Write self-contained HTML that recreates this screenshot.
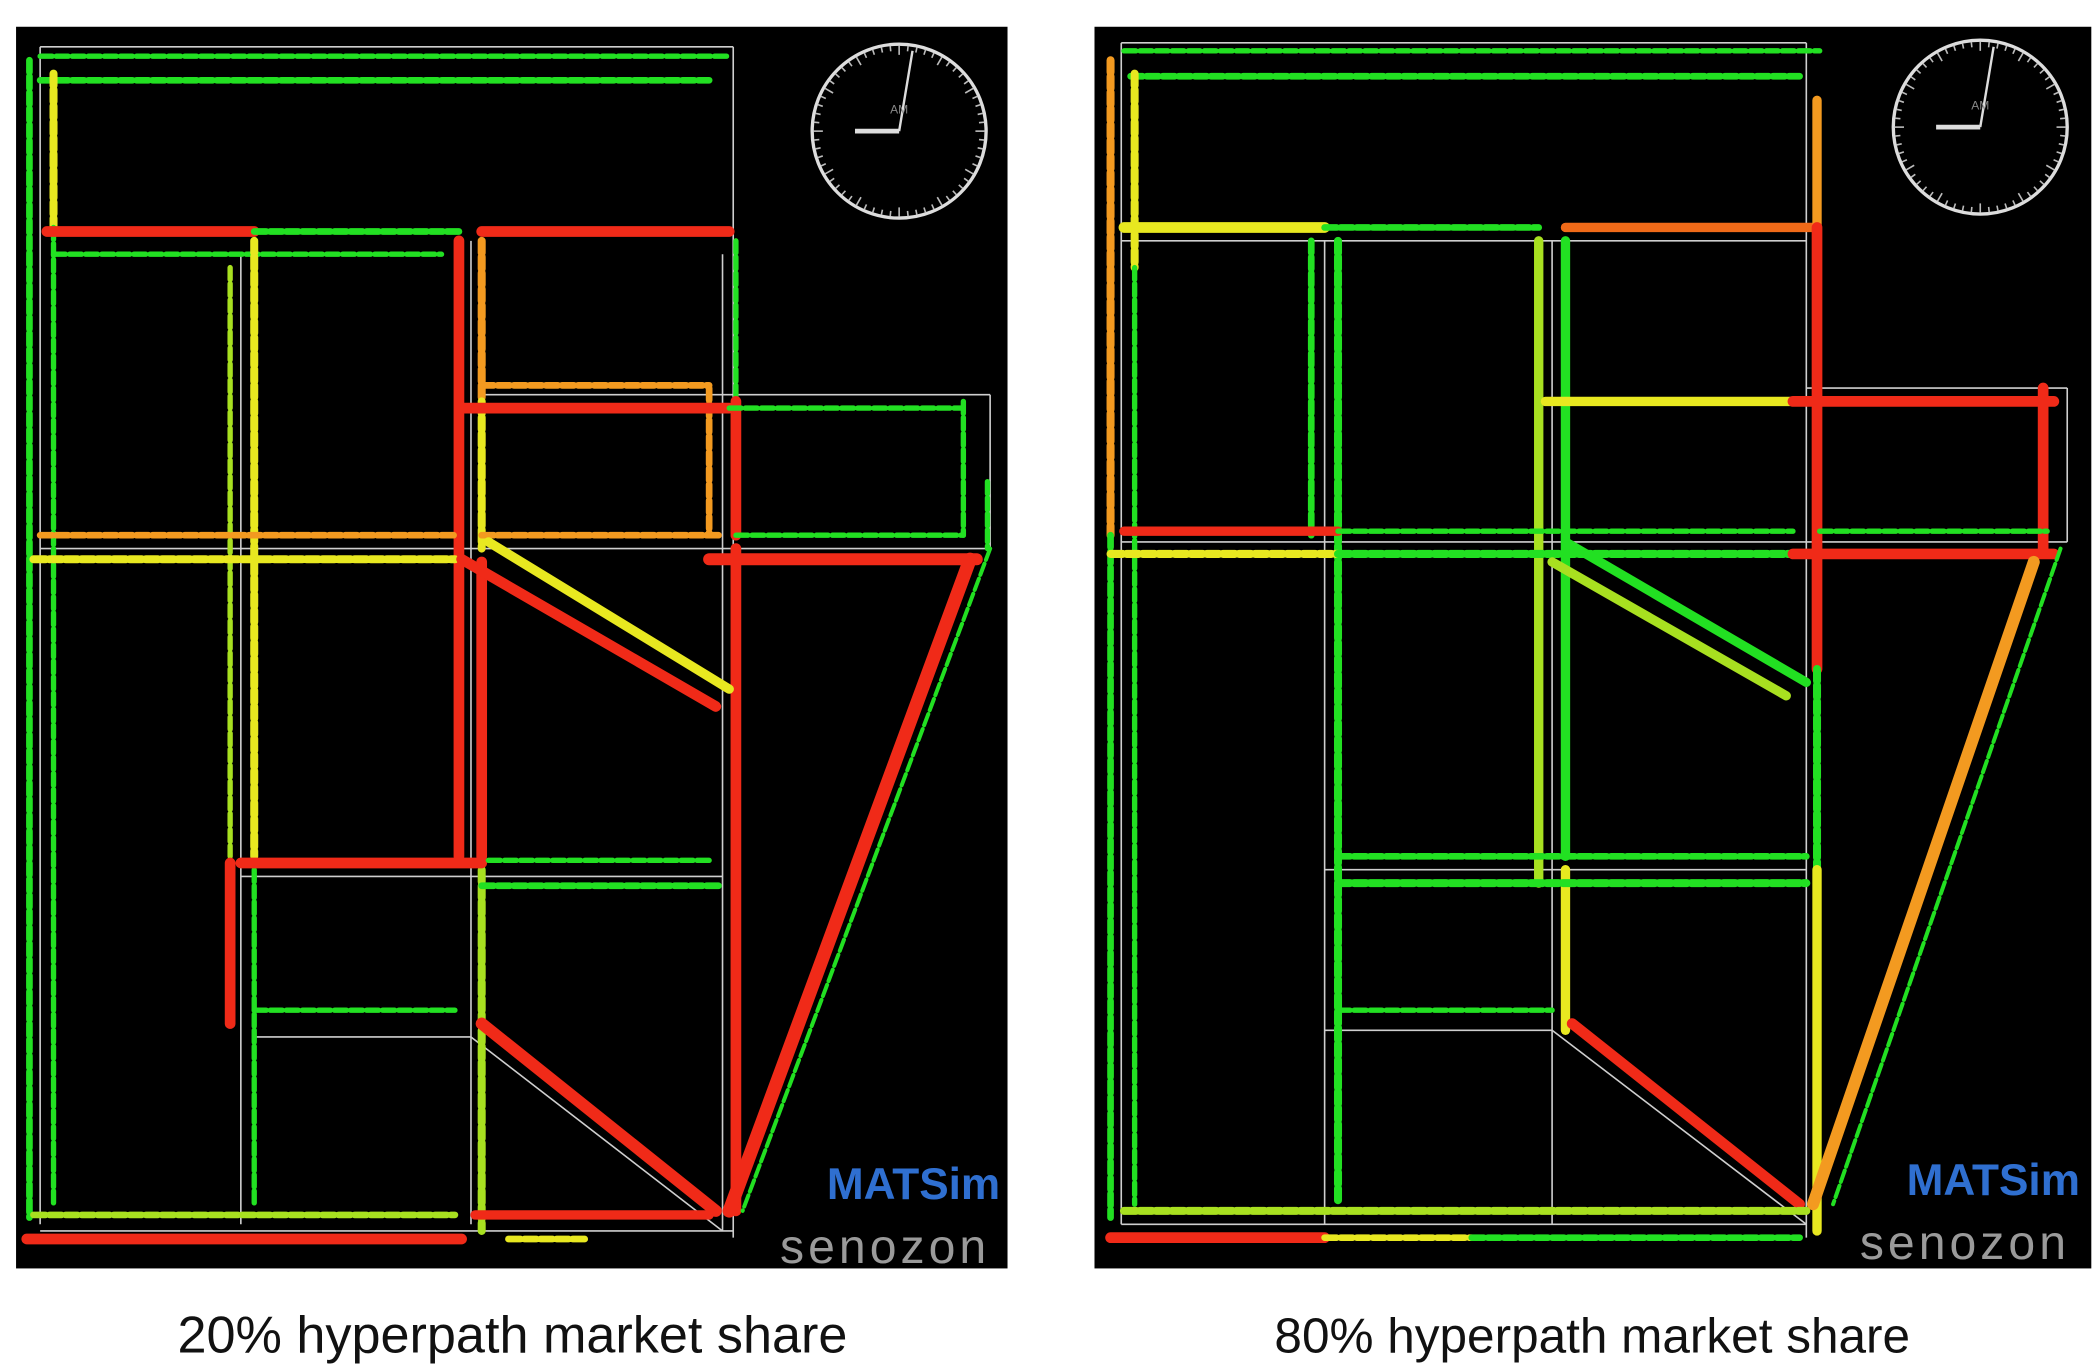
<!DOCTYPE html>
<html><head><meta charset="utf-8">
<style>
html,body{margin:0;padding:0;background:#fff;width:2098px;height:1372px;overflow:hidden}
svg{display:block}
</style></head>
<body>
<svg id="fig" width="2098" height="1372" viewBox="0 0 1568 1025.4" xmlns="http://www.w3.org/2000/svg">
<rect x="12" y="20" width="741" height="928" fill="#000"/>
<rect x="818" y="20" width="745" height="928" fill="#000"/>
<g id="grid"></g>
<g id="links"></g>
<g id="clock-left"></g>
<g id="clock-right"></g>
<text x="618" y="896" font-family="Liberation Sans, sans-serif" font-weight="bold" font-size="33" fill="#2f6fd0">MATSim</text>
<text x="583" y="944" font-family="Liberation Sans, sans-serif" font-size="36" fill="#9a9a9a" letter-spacing="3">senozon</text>
<text x="1425" y="893" font-family="Liberation Sans, sans-serif" font-weight="bold" font-size="33" fill="#2f6fd0">MATSim</text>
<text x="1390" y="941" font-family="Liberation Sans, sans-serif" font-size="36" fill="#9a9a9a" letter-spacing="3">senozon</text>
<text x="383" y="1011" text-anchor="middle" font-family="Liberation Sans, sans-serif" font-size="39" fill="#111">20% hyperpath market share</text>
<text x="1190" y="1011" text-anchor="middle" font-family="Liberation Sans, sans-serif" font-size="37" fill="#111">80% hyperpath market share</text>
</svg>
<script>
const G='#22e022',Y='#e8e820',YG='#a8e020',O='#f39a20',R='#f02a18',OR='#f06a18';
// [x1,y1,x2,y2,color,width]
const leftLinks=[
[30,42,545,42,G,4],[30,60,530,60,G,5],
[22,45,22,910,G,5],[40,55,40,170,Y,6],[40,170,40,900,G,4],
[35,173,190,173,R,8],[190,173,345,173,G,5],[360,173,545,173,R,8],
[40,190,330,190,G,4],
[190,180,190,640,Y,6],[190,650,190,900,G,4],[172,200,172,640,YG,4],
[343,180,343,640,R,8],[360,180,360,300,O,6],[360,300,360,410,Y,6],[360,420,360,640,R,8],[360,650,360,920,YG,6],
[550,180,550,300,G,4],[550,300,550,400,R,8],[550,410,550,905,R,8],[530,290,530,400,O,5],
[360,288,530,288,O,5],[345,305,545,305,R,8],[545,305,720,305,G,4],
[720,300,720,400,G,4],[738,360,738,410,G,4],
[30,400,340,400,O,5],[360,400,540,400,O,5],[550,400,720,400,G,4],
[25,418,340,418,Y,6],[530,418,730,418,R,9],
[345,418,535,528,R,8],[365,405,545,515,Y,7],
[725,418,545,905,R,10],[740,410,555,905,G,3],
[180,645,360,645,R,8],[365,643,530,643,G,4],[360,662,540,662,G,5],
[172,645,172,765,R,8],[190,755,340,755,G,4],
[360,765,535,905,R,9],
[25,908,340,908,YG,5],[355,908,530,908,R,7],
[20,926,345,926,R,8],[380,926,440,926,Y,5]
];
const rightLinks=[
[840,38,1360,38,G,4],[845,57,1345,57,G,5],
[830,45,830,400,O,6],[830,400,830,910,G,5],[848,55,848,200,Y,6],[848,200,848,900,G,4],
[840,170,990,170,Y,8],[990,170,1150,170,G,5],[1170,170,1355,170,OR,7],
[1358,75,1358,170,O,7],[1358,170,1358,500,R,8],[1358,500,1358,650,G,6],[1358,650,1358,920,Y,7],
[980,180,980,400,G,5],[1000,180,1000,900,G,6],
[1150,180,1150,660,YG,7],[1170,180,1170,640,G,7],[1170,650,1170,770,Y,7],
[1155,300,1340,300,Y,7],[1340,300,1535,300,R,8],[1527,290,1527,410,R,8],
[840,397,1000,397,R,7],[1000,397,1340,397,G,4],[1360,397,1530,397,G,4],
[830,414,1000,414,Y,6],[1000,414,1340,414,G,6],[1340,414,1535,414,R,8],
[1170,405,1350,510,G,7],[1160,420,1335,520,YG,7],
[1520,420,1355,900,O,9],[1540,410,1370,900,G,3],
[1000,640,1350,640,G,5],[1000,660,1350,660,G,6],[1000,755,1160,755,G,4],
[1175,765,1345,900,R,8],
[840,905,1350,905,YG,6],[830,925,990,925,R,8],[990,925,1100,925,Y,5],[1100,925,1345,925,G,5]
];
const gridLines=[
[30,35,30,915],[548,35,548,925],[30,35,548,35],[30,920,548,920],[180,190,180,915],[352,180,352,915],[30,410,740,410],[360,295,740,295],[740,295,740,410],[180,655,540,655],[190,775,352,775],[352,775,540,920],[540,190,540,920],
[838,32,838,915],[1350,32,1350,925],[838,32,1350,32],[838,915,1350,915],[990,180,990,915],[1160,180,1160,915],[838,405,1545,405],[1350,290,1545,290],[1545,290,1545,405],[990,650,1350,650],[990,770,1160,770],[1160,770,1350,915],[838,180,1350,180]
];
const NS='http://www.w3.org/2000/svg';
const grid=document.getElementById('grid');
gridLines.forEach(l=>{const e=document.createElementNS(NS,'line');
e.setAttribute('x1',l[0]);e.setAttribute('y1',l[1]);e.setAttribute('x2',l[2]);e.setAttribute('y2',l[3]);
e.setAttribute('stroke','#cfcfcf');e.setAttribute('stroke-width','1.2');


grid.appendChild(e);});
const links=document.getElementById('links');
function draw(arr,side){arr.forEach(l=>{const e=document.createElementNS(NS,'line');
e.setAttribute('x1',l[0]);e.setAttribute('y1',l[1]);e.setAttribute('x2',l[2]);e.setAttribute('y2',l[3]);
e.setAttribute('stroke',l[4]);e.setAttribute('stroke-width',l[5]);e.setAttribute('stroke-linecap','round');
if(l[5]<7)e.setAttribute('stroke-dasharray','9 3');


links.appendChild(e);});}
draw(leftLinks,'l');draw(rightLinks,'r');
function clock(id,cx,cy){const g=document.getElementById(id);let s='';
s+=`<circle cx="${cx}" cy="${cy}" r="65" fill="none" stroke="#ddd" stroke-width="2.5"/>`;
for(let i=0;i<60;i++){const a=i*Math.PI/30,r1=i%5?60:57;
s+=`<line x1="${cx+Math.sin(a)*r1}" y1="${cy-Math.cos(a)*r1}" x2="${cx+Math.sin(a)*64}" y2="${cy-Math.cos(a)*64}" stroke="#bbb" stroke-width="1.2"/>`;}
s+=`<line x1="${cx}" y1="${cy}" x2="${cx-33}" y2="${cy}" stroke="#ddd" stroke-width="3.5"/>`;
s+=`<line x1="${cx}" y1="${cy}" x2="${cx+10}" y2="${cy-60}" stroke="#ddd" stroke-width="1.8"/>`;
s+=`<text x="${cx}" y="${cy-13}" font-size="9" fill="#888" text-anchor="middle" font-family="Liberation Sans, sans-serif">AM</text>`;
g.innerHTML=s;}
clock('clock-left',672,98);clock('clock-right',1480,95);
</script>
</body></html>
